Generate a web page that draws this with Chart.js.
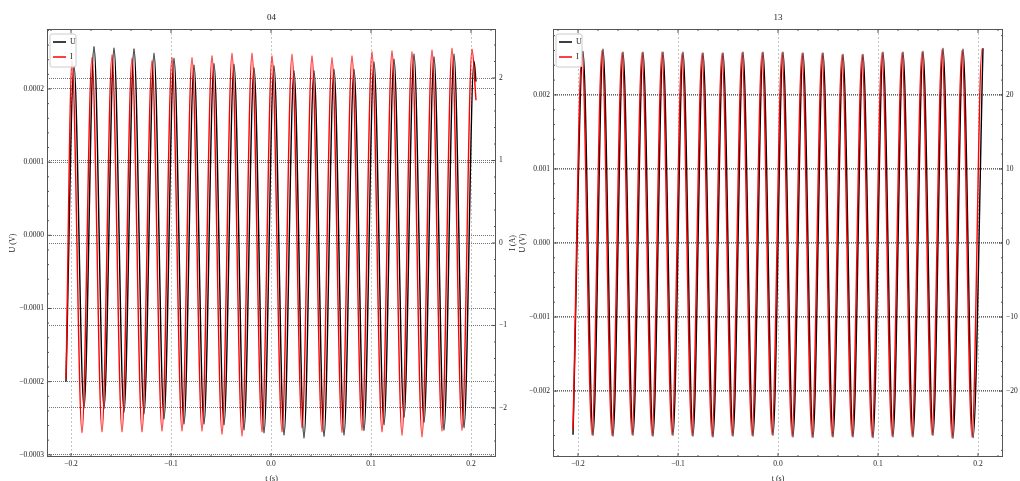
<!DOCTYPE html>
<html>
<head>
<meta charset="utf-8">
<script src="https://cdn.jsdelivr.net/npm/chart.js@4.4.1/dist/chart.umd.min.js"></script>
<style>
  html, body { margin: 0; padding: 0; background: #fff; }
  .panel { position: absolute; top: 0; width: 520px; height: 481px; }
  #p04 { left: 0; }
  #p13 { left: 500px; }
</style>
</head>
<body>
<div class="panel" id="p04"><canvas id="chart04"></canvas></div>
<div class="panel" id="p13"><canvas id="chart13"></canvas></div>
<script>
// Panel "04" — U (V) and I (A), peaks/troughs
const t04U = [
  -0.205, -0.197, -0.187, -0.177, -0.167, -0.157, -0.147, -0.137, -0.127, -0.117,
  -0.107, -0.097, -0.087, -0.077, -0.067, -0.057, -0.047, -0.037, -0.027, -0.017,
  -0.007, 0.003, 0.013, 0.023, 0.033, 0.043, 0.053, 0.063, 0.073, 0.083,
  0.093, 0.103, 0.113, 0.123, 0.133, 0.143, 0.153, 0.163, 0.173, 0.183,
  0.193, 0.203, 0.205
];
const u04 = [
  -0.0002, 0.000232, -0.000236, 0.000258, -0.000237, 0.000256, -0.000242, 0.000255, -0.000244, 0.000249,
  -0.000251, 0.000242, -0.000258, 0.000233, -0.000258, 0.000235, -0.000259, 0.000234, -0.000266, 0.000229,
  -0.00027, 0.000232, -0.000273, 0.000225, -0.000277, 0.000225, -0.000275, 0.000227, -0.000273, 0.000227,
  -0.000267, 0.000237, -0.000259, 0.000241, -0.000249, 0.000248, -0.000256, 0.000244, -0.000266, 0.000248,
  -0.000263, 0.000238, 0.00021
];
const t04I = [
  -0.205, -0.199, -0.189, -0.179, -0.169, -0.159, -0.149, -0.139, -0.129, -0.119,
  -0.109, -0.099, -0.089, -0.079, -0.069, -0.059, -0.049, -0.039, -0.029, -0.019,
  -0.009, 0.001, 0.011, 0.021, 0.031, 0.041, 0.051, 0.061, 0.071, 0.081,
  0.091, 0.101, 0.111, 0.121, 0.131, 0.141, 0.151, 0.161, 0.171, 0.181,
  0.191, 0.201, 0.205
];
const i04 = [
  -1.64, 2.21, -2.30, 2.25, -2.29, 2.28, -2.29, 2.24, -2.29, 2.21,
  -2.28, 2.25, -2.28, 2.25, -2.28, 2.27, -2.32, 2.30, -2.34, 2.30,
  -2.29, 2.27, -2.29, 2.29, -2.24, 2.27, -2.29, 2.25, -2.30, 2.27,
  -2.27, 2.32, -2.29, 2.33, -2.33, 2.32, -2.35, 2.34, -2.28, 2.36,
  -2.27, 2.35, 1.73
];

// Panel "13"
const t13U = [
  -0.205, -0.195, -0.185, -0.175, -0.165, -0.155, -0.145, -0.135, -0.125, -0.115,
  -0.105, -0.095, -0.085, -0.075, -0.065, -0.055, -0.045, -0.035, -0.025, -0.015,
  -0.005, 0.005, 0.015, 0.025, 0.035, 0.045, 0.055, 0.065, 0.075, 0.085,
  0.095, 0.105, 0.115, 0.125, 0.135, 0.145, 0.155, 0.165, 0.175, 0.185,
  0.195, 0.205
];
const u13 = [
  -0.00259, 0.00259, -0.0026, 0.00262, -0.00261, 0.00258, -0.0026, 0.00258, -0.00261, 0.00258,
  -0.0026, 0.00258, -0.00261, 0.00257, -0.00262, 0.00257, -0.00261, 0.00258, -0.00261, 0.00258,
  -0.0026, 0.00258, -0.00262, 0.00257, -0.00263, 0.00257, -0.00262, 0.00255, -0.00262, 0.00255,
  -0.00263, 0.00258, -0.00262, 0.00258, -0.00262, 0.00259, -0.0026, 0.00263, -0.00264, 0.00262,
  -0.00263, 0.00263
];
const t13I = [
  -0.205, -0.196, -0.186, -0.176, -0.166, -0.156, -0.146, -0.136, -0.126, -0.116,
  -0.106, -0.096, -0.086, -0.076, -0.066, -0.056, -0.046, -0.036, -0.026, -0.016,
  -0.006, 0.004, 0.014, 0.024, 0.034, 0.044, 0.054, 0.064, 0.074, 0.084,
  0.094, 0.104, 0.114, 0.124, 0.134, 0.144, 0.154, 0.164, 0.174, 0.184,
  0.194, 0.204, 0.205
];
const i13 = [
  -25.2, 25.8, -25.9, 26.0, -26.0, 25.7, -25.9, 25.7, -26.0, 25.8,
  -25.9, 25.6, -26.0, 25.6, -26.1, 25.6, -26.0, 25.7, -26.0, 25.7,
  -25.9, 25.7, -26.1, 25.6, -26.2, 25.6, -26.1, 25.4, -26.1, 25.4,
  -26.2, 25.7, -26.1, 25.7, -26.1, 25.8, -25.9, 26.1, -26.3, 26.0,
  -26.2, 26.2, 26.1
];

// Tick labels
const tickX = [-0.2, -0.1, 0.0, 0.1, 0.2];
const tick04U = [-0.0003, -0.0002, -0.0001, 0.0, 0.0001, 0.0002];
const tick04I = [-2, -1, 0, 1, 2];
const tick13U = [-0.002, -0.001, 0.0, 0.001, 0.002];
const tick13I = [-20, -10, 0, 10, 20];

const SERIF = "'Liberation Serif', 'DejaVu Serif', serif";
const minus = s => s.replace('-', '\u2212');

// frame, inward ticks, legend and right axis title
function makeDecor(p) {
    return {
        id: 'decor' + p.title,
        afterDatasetsDraw(chart) {
            const { ctx, chartArea: a, scales } = chart;
            const near = (list, v, eps) => list.some(m => Math.abs(m - v) < eps);
            const walk = (scale, step, major, draw) => {
                const first = Math.ceil((scale.min - 1e-12) / step);
                const last = Math.floor((scale.max + 1e-12) / step);
                for (let k = first; k <= last; k++) {
                    const v = k * step;
                    draw(scale.getPixelForValue(v), near(major, v, step / 10) ? 4 : 2);
                }
            };
            ctx.save();
            ctx.strokeStyle = '#444';
            ctx.lineWidth = 0.9;
            ctx.beginPath();
            walk(scales.x, p.xStep, tickX, (px, len) => {
                ctx.moveTo(px, a.bottom); ctx.lineTo(px, a.bottom - len);
                ctx.moveTo(px, a.top); ctx.lineTo(px, a.top + len);
            });
            walk(scales.yU, p.uStep, p.uTicks, (py, len) => {
                ctx.moveTo(a.left, py); ctx.lineTo(a.left + len, py);
            });
            walk(scales.yI, p.iStep, p.iTicks, (py, len) => {
                ctx.moveTo(a.right, py); ctx.lineTo(a.right - len, py);
            });
            ctx.stroke();
            ctx.lineWidth = 1;
            ctx.strokeStyle = '#555';
            ctx.strokeRect(a.left + 0.5, a.top + 0.5, a.width - 1, a.height - 1);

            // legend
            const lx = a.left + 3, ly = a.top + 5;
            ctx.beginPath();
            if (ctx.roundRect) ctx.roundRect(lx, ly, 26, 33, 2); else ctx.rect(lx, ly, 26, 33);
            ctx.fillStyle = 'rgba(255,255,255,0.85)';
            ctx.fill();
            ctx.strokeStyle = '#cccccc';
            ctx.lineWidth = 1;
            ctx.stroke();
            ctx.font = '8px ' + SERIF;
            ctx.textBaseline = 'middle';
            ctx.textAlign = 'left';
            [['U', '#000000', 13], ['I', '#ff0000', 28]].forEach(([txt, col, dy]) => {
                ctx.beginPath();
                ctx.strokeStyle = col;
                ctx.lineWidth = 1.5;
                ctx.moveTo(a.left + 6, a.top + dy);
                ctx.lineTo(a.left + 19, a.top + dy);
                ctx.stroke();
                ctx.fillStyle = '#222';
                ctx.fillText(txt, a.left + 23, a.top + dy);
            });

            if (p.rightTitle) {
                ctx.translate(a.right + 17, (a.top + a.bottom) / 2);
                ctx.rotate(-Math.PI / 2);
                ctx.textAlign = 'center';
                ctx.fillStyle = '#222';
                ctx.fillText(p.rightTitle, 0, 0);
            }
            ctx.restore();
        }
    };
}

function buildChart(canvasId, p) {
    const tickFont = { family: SERIF, size: 7.5 };
    return new Chart(document.getElementById(canvasId), {
        type: 'line',
        data: {
            datasets: [
                { label: 'U', data: p.tU.map((t, k) => ({ x: t, y: p.u[k] })), yAxisID: 'yU', borderColor: '#000000', order: 2 },
                { label: 'I', data: p.tI.map((t, k) => ({ x: t, y: p.i[k] })), yAxisID: 'yI', borderColor: '#ff0000', order: 1 }
            ]
        },
        options: {
            responsive: true,
            maintainAspectRatio: false,
            animation: false,
            layout: { padding: 0 },
            elements: {
                point: { radius: 0 },
                line: { borderWidth: 1.4, cubicInterpolationMode: 'monotone', fill: false }
            },
            plugins: {
                legend: { display: false },
                tooltip: { enabled: false },
                title: {
                    display: true,
                    text: p.title,
                    fullSize: false,
                    color: '#222',
                    font: { family: SERIF, size: 9, weight: 'normal', lineHeight: '10px' },
                    padding: { top: 13, bottom: 6 }
                }
            },
            scales: {
                x: {
                    type: 'linear',
                    position: 'bottom',
                    min: p.xRange[0],
                    max: p.xRange[1],
                    afterBuildTicks: s => { s.ticks = tickX.map(v => ({ value: v })); },
                    afterFit: s => { s.height = 24; },
                    ticks: { font: tickFont, color: '#222', padding: 3, maxRotation: 0, callback: v => minus(v.toFixed(1)) },
                    grid: { color: '#b5b5b5', lineWidth: 0.8, drawTicks: false },
                    border: { display: false, dash: [2, 2] },
                    title: { display: true, text: 't (s)', color: '#222', font: { family: SERIF, size: 8 }, padding: { top: 0, bottom: -3 } }
                },
                yU: {
                    type: 'linear',
                    position: 'left',
                    min: p.uRange[0],
                    max: p.uRange[1],
                    afterBuildTicks: s => { s.ticks = p.uTicks.map(v => ({ value: v })); },
                    afterFit: s => { s.width = p.leftWidth; },
                    ticks: { font: tickFont, color: '#222', padding: 3, callback: v => minus(v.toFixed(p.uDigits)) },
                    grid: { color: '#666666', lineWidth: p.gridWidth, drawTicks: false },
                    border: { display: false, dash: [1, 1] },
                    title: { display: true, text: 'U (V)', color: '#222', font: { family: SERIF, size: 8 }, padding: { top: p.uTitlePad, bottom: 0 } }
                },
                yI: {
                    type: 'linear',
                    position: 'right',
                    min: p.iRange[0],
                    max: p.iRange[1],
                    afterBuildTicks: s => { s.ticks = p.iTicks.map(v => ({ value: v })); },
                    afterFit: s => { s.width = p.rightWidth; },
                    ticks: { font: tickFont, color: '#222', padding: 3, callback: v => minus(v.toFixed(0)) },
                    grid: { color: '#666666', lineWidth: p.gridWidth, drawTicks: false },
                    border: { display: false, dash: [1, 1] }
                }
            }
        },
        plugins: [makeDecor(p)]
    });
}

buildChart('chart04', {
    title: '04', tU: t04U, u: u04, tI: t04I, i: i04,
    xRange: [-0.224, 0.225], uRange: [-0.000303, 0.000282], iRange: [-2.594, 2.594],
    uTicks: tick04U, iTicks: tick04I, uDigits: 4,
    xStep: 0.02, uStep: 0.00002, iStep: 0.2, gridWidth: 0.9,
    leftWidth: 47, rightWidth: 24, uTitlePad: 8, rightTitle: 'I (A)'
});

buildChart('chart13', {
    title: '13', tU: t13U, u: u13, tI: t13I, i: i13,
    xRange: [-0.225, 0.225], uRange: [-0.00289, 0.00289], iRange: [-28.9, 28.9],
    uTicks: tick13U, iTicks: tick13I, uDigits: 3,
    xStep: 0.02, uStep: 0.0002, iStep: 2, gridWidth: 1.4,
    leftWidth: 53, rightWidth: 17, uTitlePad: 18, rightTitle: null
});
</script>
</body>
</html>
